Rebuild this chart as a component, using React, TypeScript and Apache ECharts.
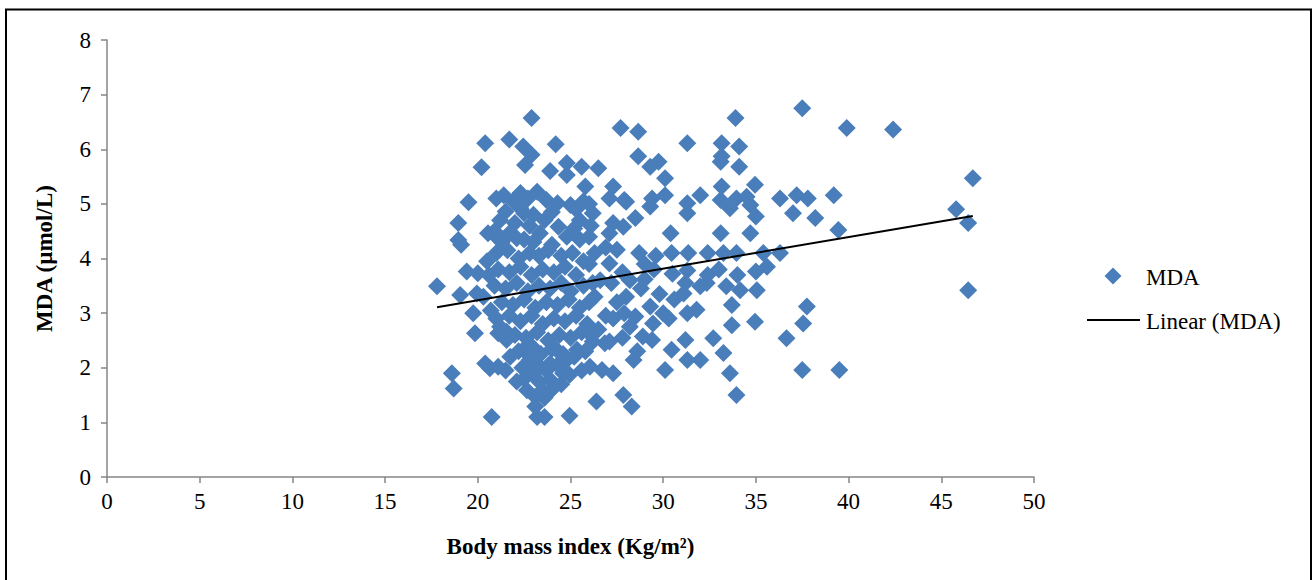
import React, { useEffect, useRef } from "react";
import * as echarts from "echarts";

// MDA (µmol/L) against body mass index (Kg/m²)
const mdaPoints: [number, number][] = [
  // left edge
  [17.8, 3.49], [18.6, 1.9], [18.7, 1.62], [19.05, 3.33], [18.95, 4.65], [18.95, 4.34], [19.1, 4.25],
  [19.5, 5.03], [19.4, 3.76], [20.0, 3.73], [19.75, 3.0], [19.85, 2.63], [19.95, 3.36], [20.2, 5.67],
  [20.4, 6.11], [20.55, 4.46], [21.0, 4.4], [20.3, 3.3], [20.4, 2.08], [20.65, 1.99], [21.1, 2.02],
  [20.75, 1.1], [21.2, 2.75], [21.55, 2.66], [21.1, 2.63], [21.55, 2.51],
  // upper core
  [21.7, 6.18], [21.4, 5.16], [21.5, 4.86], [21.7, 4.46], [22.1, 4.37], [22.45, 6.05], [22.3, 5.2],
  [22.3, 4.92], [22.5, 4.83], [22.55, 5.71], [22.9, 6.57], [22.9, 5.9], [23.2, 5.22], [23.35, 4.46],
  [23.7, 5.07], [23.9, 5.6], [24.2, 6.09], [24.3, 5.01], [24.35, 4.58], [24.8, 5.75], [24.8, 5.53],
  [24.8, 4.4], [25.0, 4.98], [25.6, 5.68], [25.7, 5.05], [25.8, 5.32], [26.2, 4.83], [26.5, 5.65],
  [26.3, 4.1], [27.1, 5.1], [27.1, 3.91], [27.3, 5.32], [27.3, 4.65], [27.1, 4.46], [27.5, 4.16],
  [27.7, 6.39], [27.85, 4.58], [27.9, 5.07],
  // lower core
  [21.75, 2.2], [22.1, 1.75], [22.45, 2.33], [22.65, 1.59], [22.8, 2.14], [23.1, 1.47], [23.1, 1.29],
  [23.2, 1.1], [23.6, 1.1], [23.35, 2.02], [23.5, 1.59], [23.9, 1.78], [23.9, 2.08], [24.25, 2.33],
  [24.6, 1.9], [24.8, 2.14], [24.95, 1.87], [24.95, 1.12], [25.35, 2.33], [26.05, 2.02], [26.2, 2.48],
  [26.4, 1.38], [26.7, 1.96], [26.85, 2.45], [27.1, 2.48], [27.3, 1.9], [27.85, 1.5], [28.3, 1.29],
  [28.4, 2.14], [28.9, 2.57],
  // middle right
  [28.0, 5.04], [28.5, 4.74], [28.65, 6.32], [28.65, 5.87], [29.3, 5.68], [29.75, 5.77], [30.1, 5.47],
  [29.4, 5.1], [29.3, 4.95], [30.1, 5.16], [30.4, 4.46], [31.3, 6.11], [31.3, 5.01], [31.3, 4.83],
  [32.0, 5.16], [33.15, 6.11], [33.1, 5.77], [33.15, 5.87], [33.15, 5.32], [33.1, 5.07], [33.6, 4.92],
  [33.9, 6.57], [33.95, 5.1], [34.1, 6.05], [34.1, 5.68], [34.5, 5.13], [34.7, 4.98], [34.95, 5.35],
  [35.0, 4.77], [33.1, 4.46], [34.7, 4.46], [36.3, 5.1], [37.2, 5.16], [37.5, 6.75], [37.8, 5.1],
  [37.0, 4.83], [38.2, 4.74], [39.2, 5.16], [39.45, 4.52], [39.9, 6.39], [42.4, 6.36], [46.7, 5.47],
  [45.8, 4.9], [46.45, 4.65], [46.45, 3.42], [39.5, 1.96], [37.5, 1.96], [37.75, 3.12], [37.55, 2.81],
  [36.65, 2.54],
  [30.45, 4.1], [31.35, 4.1], [32.4, 4.1], [33.25, 4.1], [33.95, 4.1], [35.4, 4.1], [36.3, 4.1],
  [30.5, 3.72], [31.3, 3.78], [32.4, 3.7], [33.0, 3.8], [34.0, 3.7], [35.0, 3.76], [35.6, 3.85],
  [28.2, 3.6], [29.0, 3.62], [29.5, 3.8],
  [31.2, 3.55], [32.35, 3.55], [33.4, 3.49], [34.15, 3.42], [35.05, 3.42], [33.7, 3.15], [34.95, 2.84],
  [33.7, 2.78], [31.2, 2.51], [32.7, 2.54], [33.25, 2.27], [33.6, 1.9], [33.95, 1.5], [32.0, 2.14],
  [31.3, 2.14], [30.45, 2.33], [30.1, 1.96],
  [28.0, 3.3], [28.5, 2.94], [29.3, 3.12], [29.45, 2.81], [29.4, 2.51], [30.0, 3.0], [31.1, 3.36],
  [31.3, 3.0], [31.8, 3.06], [32.0, 3.49],
  [27.2, 3.55], [27.5, 3.2], [27.9, 3.0], [28.2, 2.75], [27.3, 2.9], [28.8, 3.45], [29.0, 3.9],
  [29.8, 3.35], [30.3, 2.9], [30.6, 3.25], [29.6, 4.05], [28.7, 4.1], [27.8, 3.75], [26.9, 4.2],
  [26.6, 3.6], [26.3, 3.3], [26.0, 3.9], [26.9, 2.95], [26.5, 2.7], [27.8, 2.55], [28.6, 2.3],
  // dense core
  [21.0, 5.1], [21.9, 5.05], [22.7, 5.1], [24.0, 4.85], [25.3, 4.9], [26.0, 5.0], [25.5, 4.7],
  [21.2, 4.7], [22.0, 4.65], [22.8, 4.6], [23.6, 4.7], [25.2, 4.55], [26.1, 4.6], [23.0, 4.8],
  [21.3, 4.3], [22.5, 4.35], [23.0, 4.3], [24.0, 4.25], [25.5, 4.35], [26.0, 4.4], [20.9, 4.5],
  [21.0, 4.1], [21.6, 4.15], [22.2, 4.0], [22.8, 4.1], [23.3, 4.05], [23.8, 4.15], [24.5, 4.05],
  [25.1, 4.1], [25.7, 3.95], [20.5, 3.95],
  [21.1, 3.8], [21.7, 3.75], [22.3, 3.85], [22.9, 3.7], [23.5, 3.8], [24.1, 3.75], [24.7, 3.85],
  [25.3, 3.7], [20.6, 3.7],
  [20.9, 3.5], [21.5, 3.45], [22.1, 3.55], [22.7, 3.4], [23.3, 3.5], [23.9, 3.45], [24.5, 3.55],
  [25.0, 3.4], [25.7, 3.5], [26.2, 3.55],
  [21.3, 3.2], [21.9, 3.15], [22.5, 3.25], [23.1, 3.1], [23.7, 3.2], [24.3, 3.15], [24.9, 3.25],
  [25.5, 3.1], [26.0, 3.2], [20.7, 3.05],
  [21.0, 2.9], [21.7, 2.95], [22.3, 2.85], [22.9, 2.95], [23.5, 2.8], [24.1, 2.9], [24.7, 2.85],
  [25.3, 2.95], [25.9, 2.8],
  [22.0, 2.6], [22.6, 2.55], [23.2, 2.65], [23.8, 2.5], [24.4, 2.6], [25.0, 2.55], [25.6, 2.65],
  [26.1, 2.6],
  [22.2, 2.3], [22.9, 2.4], [23.4, 2.25], [24.0, 2.35], [24.6, 2.25], [25.2, 2.2], [25.8, 2.3],
  [21.5, 1.95], [22.4, 2.0], [23.0, 1.9], [23.7, 1.95], [24.3, 2.05], [25.6, 1.95],
  [22.5, 1.8], [23.3, 1.75], [24.0, 1.6], [24.5, 1.7], [23.6, 1.45],
];

// Linear trend line (MDA)
const trendSlope = 0.0578;
const trendIntercept = 2.08;
const trendXRange = [17.8, 46.7];

const xAxisMin = 0;
const xAxisMax = 50;
const xAxisStep = 5;
const yAxisMin = 0;
const yAxisMax = 8;
const yAxisStep = 1;

const seriesNames = ["MDA", "Linear (MDA)"];
const xAxisTitle = "Body mass index (Kg/m²)";
const yAxisTitle = "MDA (µmol/L)";

const FONT = '"Liberation Serif", "Times New Roman", serif';
const POINT_COLOR = "#4A7EBB";

export default function App() {
  const ref = useRef<HTMLDivElement>(null);

  useEffect(() => {
    if (!ref.current) return;
    const chart = echarts.init(ref.current, null, { renderer: "svg" });
    const axisLine = { show: true, lineStyle: { color: "#868686", width: 1.5 } };
    const legendText = { fontFamily: FONT, fontSize: 23, fill: "#000", verticalAlign: "middle" };
    chart.setOption({
      animation: false,
      backgroundColor: "#ffffff",
      textStyle: { fontFamily: FONT },
      grid: { left: 107, right: 278, top: 40, bottom: 103 },
      xAxis: {
        type: "value",
        min: xAxisMin,
        max: xAxisMax,
        interval: xAxisStep,
        name: xAxisTitle,
        nameLocation: "middle",
        nameGap: 58,
        nameTextStyle: { fontFamily: FONT, fontSize: 23, fontWeight: "bold", color: "#000" },
        axisLine,
        axisTick: { show: true, inside: false, length: 6, lineStyle: { color: "#868686", width: 1.5 } },
        axisLabel: { fontFamily: FONT, fontSize: 23, color: "#000", margin: 13 },
        splitLine: { show: false },
      },
      yAxis: {
        type: "value",
        min: yAxisMin,
        max: yAxisMax,
        interval: yAxisStep,
        name: yAxisTitle,
        nameLocation: "middle",
        nameGap: 51,
        nameRotate: 90,
        nameTextStyle: { fontFamily: FONT, fontSize: 23, fontWeight: "bold", color: "#000" },
        axisLine,
        axisTick: { show: true, inside: false, length: 6, lineStyle: { color: "#868686", width: 1.5 } },
        axisLabel: { fontFamily: FONT, fontSize: 23, color: "#000", margin: 16 },
        splitLine: { show: false },
      },
      graphic: [
        {
          type: "rect",
          shape: { x: 6, y: 9.5, width: 1305, height: 620 },
          style: { fill: "none", stroke: "#000", lineWidth: 2 },
          silent: true,
        },
        {
          type: "polygon",
          shape: { points: [[1113, 267.5], [1121.5, 276], [1113, 284.5], [1104.5, 276]] },
          style: { fill: POINT_COLOR },
          silent: true,
        },
        {
          type: "text",
          x: 1146,
          y: 277,
          style: { ...legendText, text: seriesNames[0] },
          silent: true,
        },
        {
          type: "line",
          shape: { x1: 1087, y1: 320, x2: 1140, y2: 320 },
          style: { stroke: "#000", lineWidth: 2 },
          silent: true,
        },
        {
          type: "text",
          x: 1146,
          y: 321,
          style: { ...legendText, text: seriesNames[1] },
          silent: true,
        },
      ],
      series: [
        {
          name: seriesNames[0],
          type: "scatter",
          symbol: "diamond",
          symbolSize: 18,
          itemStyle: { color: POINT_COLOR, opacity: 1 },
          data: mdaPoints,
        },
        {
          name: seriesNames[1],
          type: "line",
          symbol: "none",
          z: 5,
          lineStyle: { color: "#000000", width: 2 },
          itemStyle: { color: "#000000" },
          data: trendXRange.map((x) => [x, trendIntercept + trendSlope * x]),
        },
      ],
    });
    return () => chart.dispose();
  }, []);

  return (
    <div
      ref={ref}
      style={{ position: "fixed", left: 0, top: 0, width: 1312, height: 580, background: "#fff" }}
    />
  );
}
